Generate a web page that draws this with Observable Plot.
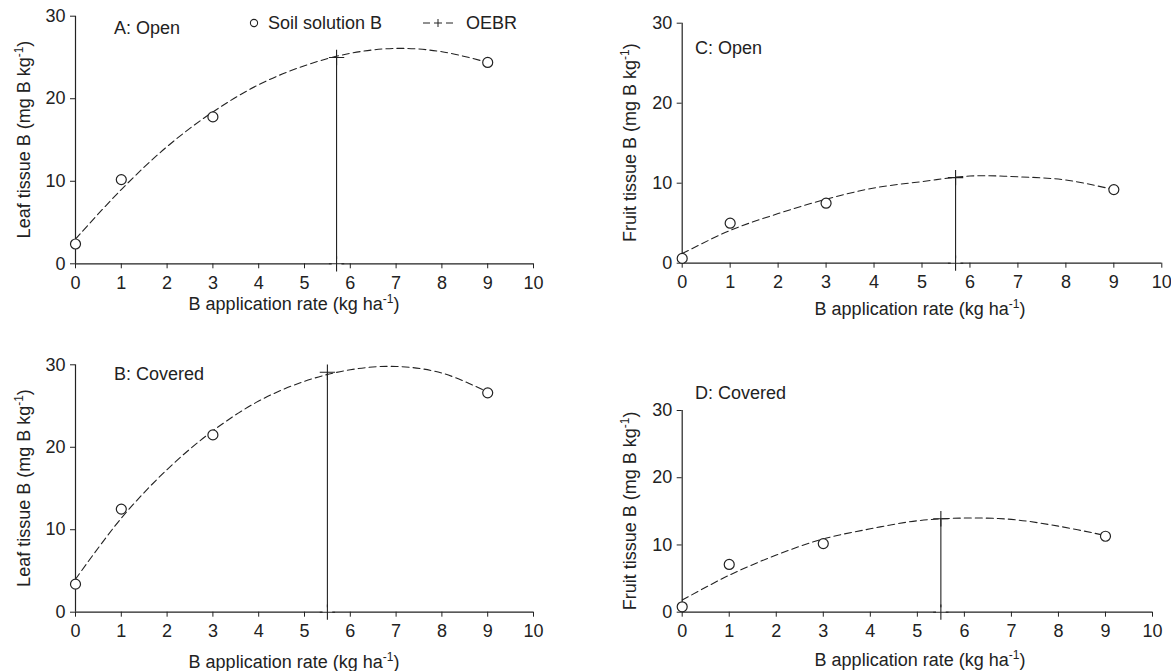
<!DOCTYPE html>
<html><head><meta charset="utf-8">
<script src="https://cdn.jsdelivr.net/npm/d3@7"></script>
<script src="https://cdn.jsdelivr.net/npm/@observablehq/plot@0.6"></script>
<style>
body{margin:0;background:#fff;}
#chart{position:relative;width:1171px;height:671px;font-family:"Liberation Sans",Arial,sans-serif;}
#chart svg{position:absolute;overflow:visible;}
</style></head><body><div id="chart"></div>
<script>
// ---- data ----
const obsRate = [0, 1, 3, 9];                 // B application rate (kg/ha) of measured points
const curveRate = [0, 1, 2, 3, 4, 5, 6, 7, 8, 9]; // rates at which the fitted curve was read
const xTicks = [0, 1, 2, 3, 4, 5, 6, 7, 8, 9, 10];
const yTicks = [0, 10, 20, 30];

const leafOpenObs = [2.4, 10.2, 17.8, 24.4];
const leafOpenCurve = [3.0, 9.0, 14.2, 18.4, 21.7, 24.0, 25.5, 26.1, 25.7, 24.4];
const leafOpenOEBR = [5.7, 25.0];

const leafCoveredObs = [3.4, 12.5, 21.5, 26.6];
const leafCoveredCurve = [4.0, 11.4, 17.3, 22.0, 25.6, 28.0, 29.4, 29.8, 29.0, 26.7];
const leafCoveredOEBR = [5.5, 29.1];

const fruitOpenObs = [0.6, 5.0, 7.5, 9.2];
const fruitOpenCurve = [1.2, 4.1, 6.2, 8.0, 9.4, 10.2, 10.9, 10.8, 10.4, 9.2];
const fruitOpenOEBR = [5.7, 10.7];

const fruitCoveredObs = [0.8, 7.1, 10.2, 11.3];
const fruitCoveredCurve = [1.8, 5.5, 8.5, 10.9, 12.4, 13.6, 14.0, 13.8, 12.8, 11.4];
const fruitCoveredOEBR = [5.5, 13.9];

const panelTitles = ["A: Open", "B: Covered", "C: Open", "D: Covered"];
const xLabel = ["B application rate (kg ha", "-1", ")"];
const leafLabel = ["Leaf tissue B (mg B kg", "-1", ")"];
const fruitLabel = ["Fruit tissue B (mg B kg", "-1", ")"];
const legendLabels = ["Soil solution B", "OEBR"];

// ---- layout (pixels) ----
const INK = "#222";
const FONT = '"Liberation Sans", Arial, sans-serif';
const panels = [
  {title: panelTitles[0], obs: leafOpenObs, curve: leafOpenCurve, oebr: leafOpenOEBR, ylab: leafLabel,
   left: 0, top: 0, w: 585, h: 330, ml: 75, mr: 52, mt: 15.7, mb: 66.7,
   titleX: 114, titleY: 34, xlabX: 294, xlabY: 310, ylabX: 30, legend: true},
  {title: panelTitles[1], obs: leafCoveredObs, curve: leafCoveredCurve, oebr: leafCoveredOEBR, ylab: leafLabel,
   left: 0, top: 330, w: 585, h: 341, ml: 75, mr: 52, mt: 34.3, mb: 59.3,
   titleX: 114, titleY: 50, xlabX: 294, xlabY: 338, ylabX: 30},
  {title: panelTitles[2], obs: fruitOpenObs, curve: fruitOpenCurve, oebr: fruitOpenOEBR, ylab: fruitLabel,
   left: 585, top: 0, w: 586, h: 330, ml: 96.7, mr: 9.7, mt: 22.7, mb: 67.3,
   titleX: 110, titleY: 54, xlabX: 335, xlabY: 315, ylabX: 51},
  {title: panelTitles[3], obs: fruitCoveredObs, curve: fruitCoveredCurve, oebr: fruitCoveredOEBR, ylab: fruitLabel,
   left: 585, top: 330, w: 586, h: 341, ml: 96.7, mr: 19, mt: 80, mb: 59.3,
   titleX: 110, titleY: 69, xlabX: 335, xlabY: 336, ylabX: 51}
];

function addText(g, str, attrs) {
  const t = g.append("text").attr("fill", INK).attr("font-size", 18)
    .attr("font-family", FONT).attr("text-anchor", "start").text(str);
  for (const k in attrs) t.attr(k, attrs[k]);
  return t;
}
function addSupText(g, parts, attrs) {
  const t = g.append("text").attr("fill", INK).attr("font-size", 18).attr("font-family", FONT);
  for (const k in attrs) t.attr(k, attrs[k]);
  t.append("tspan").text(parts[0]);
  t.append("tspan").attr("font-size", 12).attr("dy", -7).text(parts[1]);
  t.append("tspan").attr("dy", 7).text(parts[2]);
  return t;
}

const root = document.getElementById("chart");
for (const p of panels) {
  const obs = obsRate.map((x, i) => ({x, y: p.obs[i]}));
  const curve = curveRate.map((x, i) => ({x, y: p.curve[i]}));
  const oebr = [{x: p.oebr[0], y: p.oebr[1]}];
  const svg = Plot.plot({
    width: p.w, height: p.h,
    marginLeft: p.ml, marginRight: p.mr, marginTop: p.mt, marginBottom: p.mb,
    x: {domain: [0, 10], axis: null},
    y: {domain: [0, 30], axis: null},
    style: {fontFamily: FONT, fontSize: "18px", color: INK, background: "transparent", overflow: "visible"},
    marks: [
      Plot.axisX({ticks: xTicks, tickSize: 5, tickPadding: 7, fontSize: 18, label: null, stroke: INK}),
      Plot.axisY({ticks: yTicks, tickSize: 5, tickPadding: 5, fontSize: 18, label: null, stroke: INK}),
      Plot.ruleY([0], {x1: 0, x2: 10, stroke: INK, strokeWidth: 1.2}),
      Plot.ruleX([0], {y1: 0, y2: 30, stroke: INK, strokeWidth: 1.2}),
      Plot.line(curve, {x: "x", y: "y", curve: "catmull-rom", stroke: INK, strokeWidth: 1.1, strokeDasharray: "7,4"}),
      Plot.ruleX(oebr, {x: "x", y1: 0, y2: "y", stroke: INK, strokeWidth: 1.1}),
      Plot.dot(oebr, {x: "x", y: () => 0, symbol: "square", r: 5.5, fill: "white", stroke: null}),
      Plot.dot(oebr, {x: "x", y: () => 0, symbol: "plus", r: 5, stroke: INK, strokeWidth: 1.1}),
      Plot.dot(oebr, {x: "x", y: "y", symbol: "plus", r: 5, stroke: INK, strokeWidth: 1.1}),
      Plot.dot(obs, {x: "x", y: "y", r: 5, fill: "white", stroke: INK, strokeWidth: 1.2})
    ]
  });
  svg.style.left = p.left + "px";
  svg.style.top = p.top + "px";
  const g = d3.select(svg).append("g");
  addText(g, p.title, {x: p.titleX, y: p.titleY});
  const cy = (p.mt + p.h - p.mb) / 2;
  addSupText(g, xLabel, {x: p.xlabX, y: p.xlabY, "text-anchor": "middle"});
  addSupText(g, p.ylab, {"text-anchor": "middle", transform: `translate(${p.ylabX},${cy}) rotate(-90)`});
  if (p.legend) {
    g.append("circle").attr("cx", 254).attr("cy", 23).attr("r", 3.6)
      .attr("fill", "white").attr("stroke", INK).attr("stroke-width", 1.1);
    addText(g, legendLabels[0], {x: 268, y: 29.4});
    g.append("line").attr("x1", 423).attr("x2", 430).attr("y1", 23).attr("y2", 23).attr("stroke", INK);
    g.append("line").attr("x1", 434).attr("x2", 442).attr("y1", 23).attr("y2", 23).attr("stroke", INK);
    g.append("line").attr("x1", 438).attr("x2", 438).attr("y1", 19).attr("y2", 27).attr("stroke", INK);
    g.append("line").attr("x1", 446).attr("x2", 453).attr("y1", 23).attr("y2", 23).attr("stroke", INK);
    addText(g, legendLabels[1], {x: 466, y: 29.4});
  }
  root.appendChild(svg);
}
</script></body></html>
